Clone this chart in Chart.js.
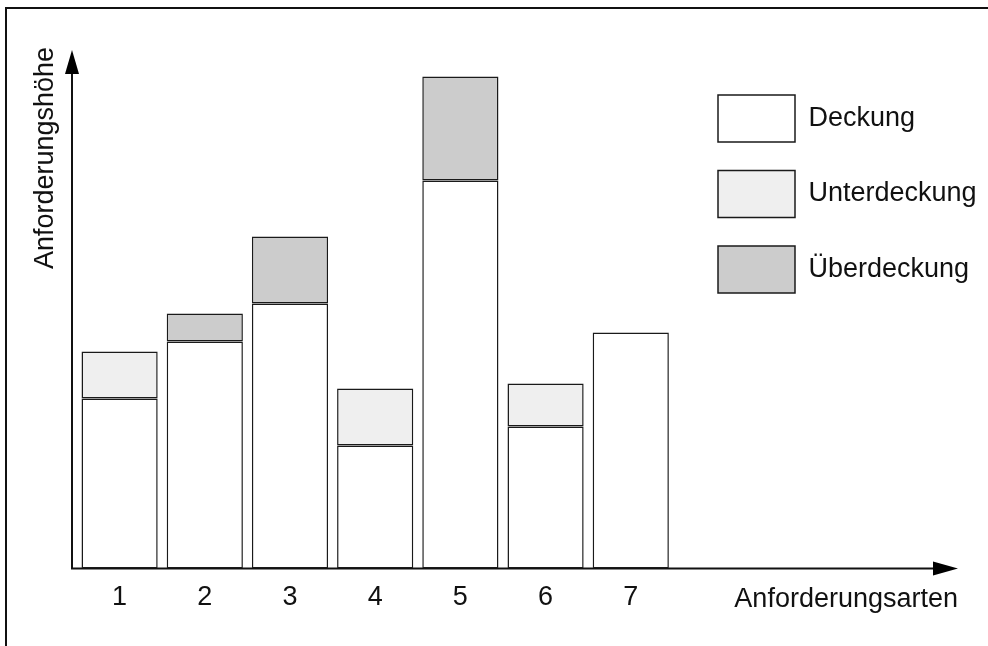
<!DOCTYPE html>
<html>
<head>
<meta charset="utf-8">
<script src="https://cdn.jsdelivr.net/npm/chart.js@4/dist/chart.umd.min.js"></script>
<style>
  html, body { margin: 0; padding: 0; background: #fff; }
  canvas { display: block; }
</style>
</head>
<body>
<canvas id="c" width="988" height="646"></canvas>
<script>
// ---- data ----
const categories = ['1', '2', '3', '4', '5', '6', '7'];
const seriesNames = ['Deckung', 'Unterdeckung', 'Überdeckung'];
const deckung      = [17.0, 22.7, 26.5, 12.3, 38.8, 14.2, 23.6];
const unterdeckung = [4.7, null, null, 5.7, null, 4.3, null];
const ueberdeckung = [null, 2.8, 6.7, null, 10.4, null, null];
const xTitle = 'Anforderungsarten';
const yTitle = 'Anforderungshöhe';

// ---- styling ----
const FONT = '"Liberation Sans", Arial, sans-serif';
const FS = 27;
const INK = '#111';
Chart.defaults.font.family = FONT;
Chart.defaults.font.size = FS;
Chart.defaults.color = INK;

const toPts = arr => categories.map((c, i) => ({ x: i + 1, y: arr[i] }));

// legend geometry
const mctx = document.createElement('canvas').getContext('2d');
mctx.font = FS + 'px ' + FONT;
const longest = Math.max(...seriesNames.map(s => mctx.measureText(s).width));
const LEG_PAD = 28.5;
const LEG_W = 298.5;
const padRight = Math.max(0, LEG_W - (LEG_PAD + 77 + FS / 2 + longest + 10));

const decor = {
  id: 'decor',
  beforeDatasetsDraw(chart) {
    const { ctx, chartArea: a } = chart;
    ctx.save();
    ctx.strokeStyle = INK;
    ctx.lineWidth = 2;
    // frame
    ctx.beginPath();
    ctx.moveTo(6, chart.height);
    ctx.lineTo(6, 8);
    ctx.lineTo(chart.width, 8);
    ctx.stroke();
    // axes
    const ax = a.left - 5, ay = a.bottom;
    const yTip = a.top - 16.5, xTip = chart.width - 30;
    ctx.beginPath();
    ctx.moveTo(ax, ay); ctx.lineTo(ax, yTip + 20);
    ctx.moveTo(ax - 1, ay); ctx.lineTo(xTip - 20, ay);
    ctx.stroke();
    ctx.fillStyle = '#000';
    ctx.beginPath();
    ctx.moveTo(ax, yTip); ctx.lineTo(ax - 7, yTip + 24); ctx.lineTo(ax + 7, yTip + 24);
    ctx.closePath(); ctx.fill();
    ctx.beginPath();
    ctx.moveTo(xTip, ay); ctx.lineTo(xTip - 25, ay - 7); ctx.lineTo(xTip - 25, ay + 7);
    ctx.closePath(); ctx.fill();
    ctx.restore();
  },
  afterDraw(chart) {
    const { ctx, chartArea: a } = chart;
    ctx.save();
    ctx.fillStyle = INK;
    ctx.font = FS + 'px ' + FONT;
    ctx.textBaseline = 'alphabetic';
    ctx.textAlign = 'right';
    ctx.fillText(xTitle, chart.width - 30, a.bottom + 38.5);
    ctx.translate(a.left - 24, a.top + 91.5);
    ctx.rotate(-Math.PI / 2);
    ctx.textAlign = 'center';
    ctx.fillText(yTitle, 0, 0);
    ctx.restore();
  }
};

const common = { borderColor: '#1a1a1a', borderWidth: 1.5, borderSkipped: false,
                 categoryPercentage: 1, barPercentage: 76 / 85 };

new Chart(document.getElementById('c'), {
  type: 'bar',
  data: {
    datasets: [
      Object.assign({ label: seriesNames[0], data: toPts(deckung), backgroundColor: '#ffffff' }, common),
      Object.assign({ label: seriesNames[1], data: toPts(unterdeckung), backgroundColor: '#efefef' }, common),
      Object.assign({ label: seriesNames[2], data: toPts(ueberdeckung), backgroundColor: '#cccccc' }, common)
    ]
  },
  options: {
    responsive: false,
    animation: false,
    devicePixelRatio: 1,
    layout: { padding: { top: 66.5, left: 77, right: padRight, bottom: 37.5 } },
    scales: {
      x: {
        type: 'linear',
        stacked: true,
        offset: false,
        min: 0.5,
        max: 0.5 + (988 - padRight - LEG_W - 77) / 85,
        grid: { display: false, drawTicks: false, offset: false },
        border: { display: false },
        afterBuildTicks: scale => { scale.ticks = categories.map((c, i) => ({ value: i + 1 })); },
        afterFit: scale => { scale.height = 40; },
        ticks: {
          padding: 13,
          color: INK,
          font: { size: FS },
          maxRotation: 0,
          autoSkip: false,
          callback: (v, i) => categories[i]
        }
      },
      y: {
        stacked: true,
        display: false,
        min: 0,
        max: 50.2
      }
    },
    plugins: {
      legend: {
        position: 'right',
        align: 'start',
        maxWidth: LEG_W,
        labels: {
          boxWidth: 77,
          boxHeight: 47,
          padding: LEG_PAD,
          color: INK,
          font: { size: FS }
        }
      },
      tooltip: { enabled: false }
    }
  },
  plugins: [decor]
});
</script>
</body>
</html>
